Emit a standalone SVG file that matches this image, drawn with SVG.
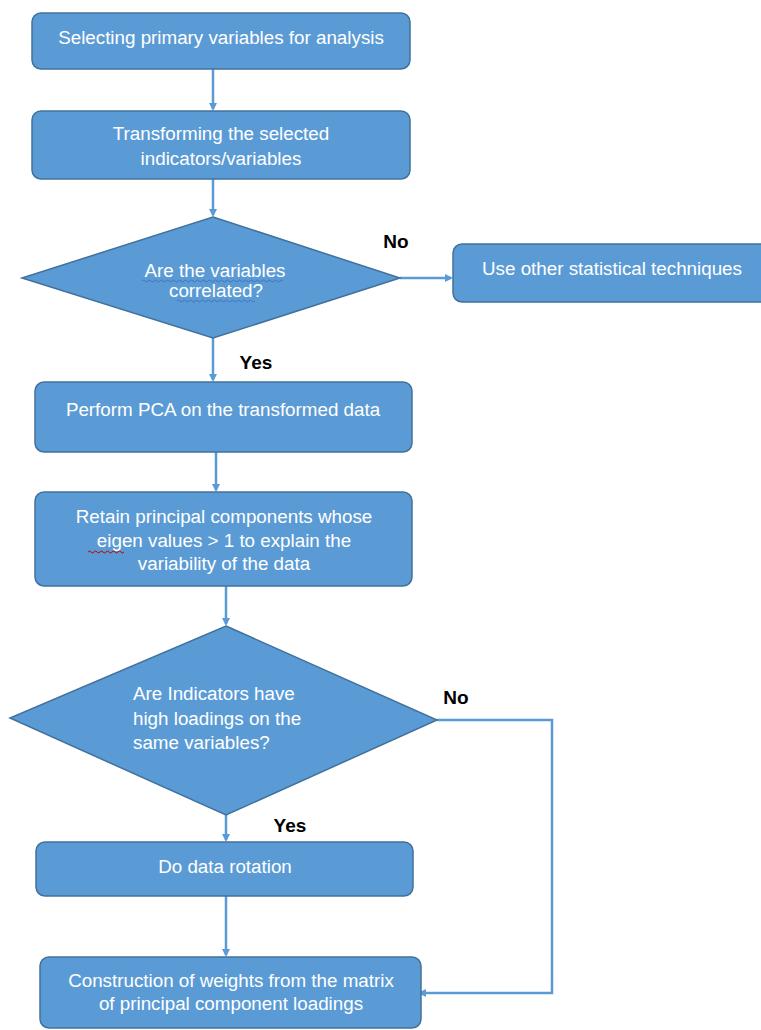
<svg xmlns="http://www.w3.org/2000/svg" width="761" height="1030" viewBox="0 0 761 1030">
<style>
.box{fill:#5B9BD5;stroke:#41719C;stroke-width:1.5}
.t{font-family:"Liberation Sans",Arial,sans-serif;font-size:18.8px;fill:#ffffff;text-anchor:middle}
.tl{font-family:"Liberation Sans",Arial,sans-serif;font-size:18.8px;fill:#ffffff}
.lbl{font-family:"Liberation Sans",Arial,sans-serif;font-size:19px;font-weight:bold;fill:#000000;text-anchor:middle}
.c{fill:none;stroke:#5B9BD5;stroke-width:2.5}
.sq{fill:none;stroke-width:1}
</style>
<defs>
<marker id="ah" markerWidth="8" markerHeight="8" refX="6" refY="4" orient="auto" markerUnits="userSpaceOnUse">
<path d="M0,0 L8,4 L0,8 z" fill="#5B9BD5"/>
</marker>
</defs>
<rect width="761" height="1030" fill="#ffffff"/>
<g id="connectors">
<line class="c" x1="213" y1="69" x2="213" y2="109" marker-end="url(#ah)"/>
<line class="c" x1="213" y1="179" x2="213" y2="215" marker-end="url(#ah)"/>
<line class="c" x1="400" y1="278" x2="451" y2="278" marker-end="url(#ah)"/>
<line class="c" x1="213" y1="338" x2="213" y2="380" marker-end="url(#ah)"/>
<line class="c" x1="216" y1="452" x2="216" y2="490" marker-end="url(#ah)"/>
<line class="c" x1="226" y1="586" x2="226" y2="624" marker-end="url(#ah)"/>
<line class="c" x1="226" y1="815" x2="226" y2="840" marker-end="url(#ah)"/>
<line class="c" x1="226" y1="896" x2="226" y2="955" marker-end="url(#ah)"/>
<polyline class="c" points="437,720 552,720 552,993 420,993" marker-end="url(#ah)"/>
<text class="lbl" x="396" y="248">No</text>
<text class="lbl" x="256" y="369">Yes</text>
<text class="lbl" x="456" y="704">No</text>
<text class="lbl" x="290" y="832">Yes</text>
</g>
<g id="n1">
<rect class="box" x="32" y="13" width="378" height="56" rx="9"/>
<text class="t" x="221" y="44">Selecting primary variables for analysis</text>
</g>
<g id="n2">
<rect class="box" x="32" y="111" width="378" height="68" rx="9"/>
<text class="t" x="221" y="140">Transforming the selected</text>
<text class="t" x="221" y="165">indicators/variables</text>
</g>
<g id="d1">
<polygon class="box" points="213,217 400,278 213,338 22,278"/>
<text class="t" x="215" y="277">Are the variables</text>
<text class="t" x="216" y="297">correlated?</text>
<path class="sq" stroke="#4472C4" d="M142,281 q1.5,-2 3,0 t3,0 t3,0 t3,0 t3,0 t3,0 t3,0 t3,0 t3,0 t3,0 t3,0 t3,0 t3,0 t3,0 t3,0 t3,0 t3,0 t3,0 t3,0 t3,0 t3,0 t3,0 t3,0 t3,0 t3,0 t3,0 t3,0 t3,0 t3,0 t3,0 t3,0 t3,0 t3,0 t3,0 t3,0 t3,0 t3,0 t3,0 t3,0 t3,0 t3,0 t3,0 t3,0 t3,0 t3,0 t3,0 t3,0"/>
<path class="sq" stroke="#4472C4" d="M177,301 q1.5,-2 3,0 t3,0 t3,0 t3,0 t3,0 t3,0 t3,0 t3,0 t3,0 t3,0 t3,0 t3,0 t3,0 t3,0 t3,0 t3,0 t3,0 t3,0 t3,0 t3,0 t3,0 t3,0 t3,0 t3,0 t3,0 t3,0"/>
</g>
<g id="n_other">
<rect class="box" x="453" y="244" width="318" height="58" rx="9"/>
<text class="t" x="612" y="275">Use other statistical techniques</text>
</g>
<g id="n3">
<rect class="box" x="35" y="382" width="377" height="70" rx="9"/>
<text class="t" x="223" y="416">Perform PCA on the transformed data</text>
</g>
<g id="n4">
<rect class="box" x="35" y="492" width="377" height="94" rx="9"/>
<text class="t" x="224" y="523">Retain principal components whose</text>
<text class="t" x="224" y="547">eigen values &gt; 1 to explain the</text>
<text class="t" x="224" y="570">variability of the data</text>
<path class="sq" stroke="#C00000" d="M88,552 q1.5,-2 3,0 t3,0 t3,0 t3,0 t3,0 t3,0 t3,0 t3,0 t3,0 t3,0 t3,0 t3,0"/>
</g>
<g id="d2">
<polygon class="box" points="226,626 437,720 226,815 10,718"/>
<text class="tl" x="133" y="700">Are Indicators have</text>
<text class="tl" x="133" y="725">high loadings on the</text>
<text class="tl" x="133" y="749">same variables?</text>
</g>
<g id="n5">
<rect class="box" x="36" y="842" width="377" height="54" rx="9"/>
<text class="t" x="225" y="873">Do data rotation</text>
</g>
<g id="n6">
<rect class="box" x="40" y="957" width="381" height="71" rx="9"/>
<text class="t" x="231" y="987">Construction of weights from the matrix</text>
<text class="t" x="231" y="1010">of principal component loadings</text>
</g>
</svg>
